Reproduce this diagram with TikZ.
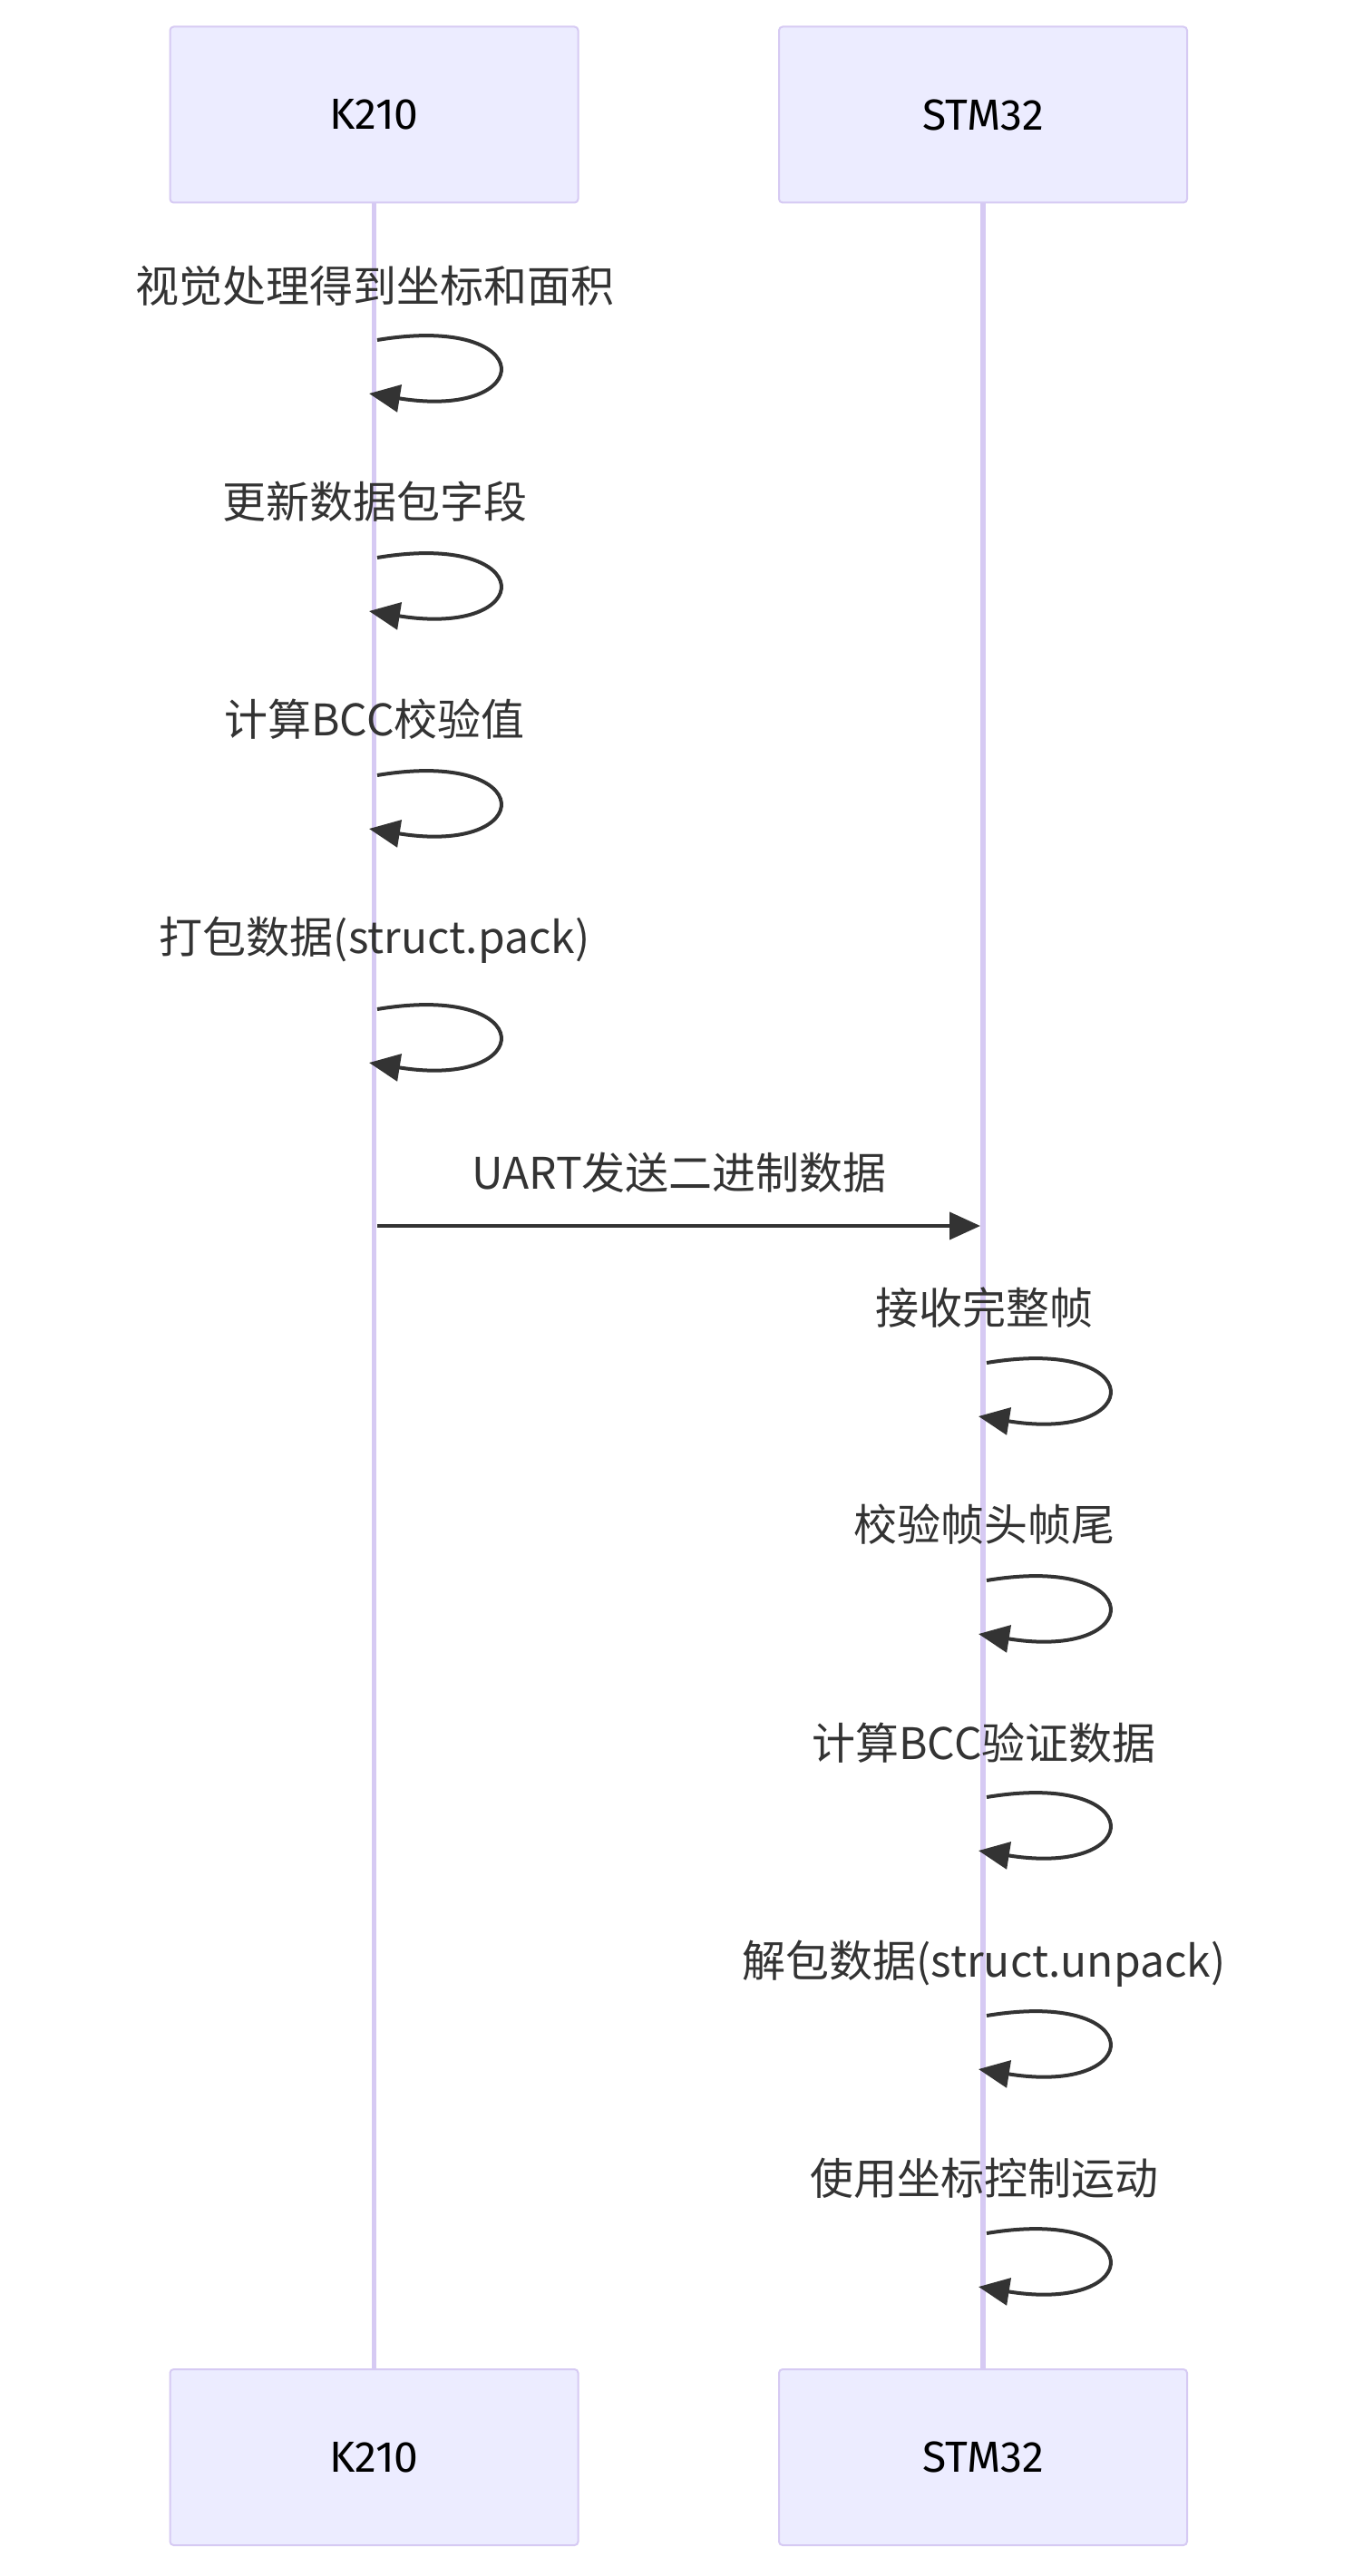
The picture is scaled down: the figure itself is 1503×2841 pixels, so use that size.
\documentclass[tikz,border=0pt]{standalone}
\usepackage{fontspec}
\setmainfont{Noto Sans CJK SC}
\newfontfamily\actorfont{Fira Sans}
\usepackage{xcolor}
\usetikzlibrary{arrows.meta}
\definecolor{actorfill}{HTML}{ECECFF}
\definecolor{actorline}{HTML}{D6CAF3}
\definecolor{msgcol}{HTML}{333333}

\begin{document}
\begin{tikzpicture}[x=0.5pt, y=-0.5pt,
  actor/.style={draw=actorline, fill=actorfill, line width=1pt, rounded corners=2pt,
    minimum width=225pt, minimum height=97pt, inner sep=0pt,
    font=\actorfont\fontsize{24}{28}\selectfont},
  lifeline/.style={actorline, line width=2.8pt},
  msglabel/.style={text=msgcol, inner sep=0pt, font=\fontsize{24}{28}\selectfont},
  msg/.style={msgcol, line width=2pt, -{Triangle[length=17pt,width=15pt]}}]
  % Canvas
  \fill[white] (0,0) rectangle (1503,2841);
  \useasboundingbox (0,0) rectangle (1503,2841);

  % Participants, top and bottom
  \node[actor] (k210top) at (412.5,126.5) {K210};
  \node[actor] (stmtop) at (1084,126.5) {STM32};
  \node[actor] (k210bot) at (412.5,2710) {K210};
  \node[actor] (stmbot) at (1084,2710) {STM32};

  % Lifelines
  \draw[lifeline] (k210top) -- (k210bot);
  \draw[lifeline] (stmtop) -- (stmbot);

  % K210 self messages
  \foreach \ly/\y/\t [count=\i] in {315/375/{视觉处理得到坐标和面积}, 553/615/{更新数据包字段},
      793/855/{计算BCC校验值}, 1037/1113/{打包数据(struct.pack)}} {
    \node[msglabel] (klab\i) at (413,\ly) {\t};
    \coordinate (ks\i) at (416,\y);
    \coordinate (ke\i) at (407,\y+59);
    \draw[msg] (ks\i) .. controls +(180,-30) and +(186,30) .. (ke\i);
  }

  % UART message
  \node[msglabel] (mlab) at (749,1293) {UART发送二进制数据};
  \coordinate (ms) at (416,1352);
  \coordinate (me) at (1081,1352);
  \draw[msg] (ms) -- (me);

  % STM32 self messages
  \foreach \ly/\y/\t [count=\i] in {1442/1503/{接收完整帧}, 1681/1743/{校验帧头帧尾},
      1922/1982/{计算BCC验证数据}, 2166/2223/{解包数据(struct.unpack)}, 2402/2463/{使用坐标控制运动}} {
    \node[msglabel] (slab\i) at (1085,\ly) {\t};
    \coordinate (ss\i) at (1088,\y);
    \coordinate (se\i) at (1079,\y+59);
    \draw[msg] (ss\i) .. controls +(180,-30) and +(186,30) .. (se\i);
  }
\end{tikzpicture}
\end{document}
